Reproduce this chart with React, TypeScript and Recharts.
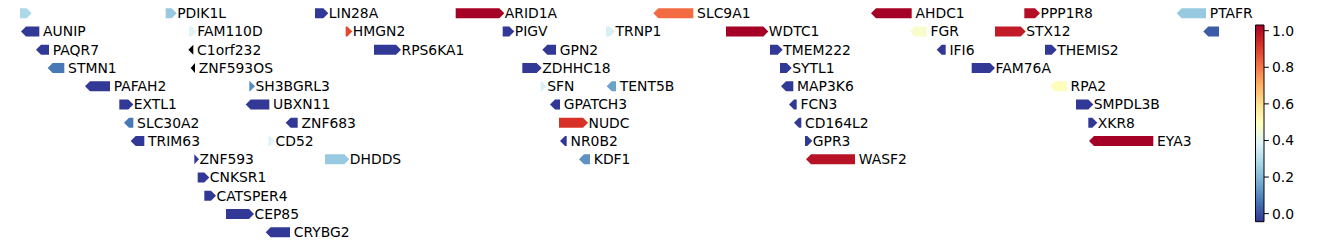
import { Bar, BarChart, ComposedChart, ReferenceArea, XAxis, YAxis } from 'recharts'

// genes, in track order (row 0 is the top line)
const geneNames = [
    '', 'PDIK1L', 'LIN28A', 'ARID1A', 'SLC9A1', 'AHDC1', 'PPP1R8', 'PTAFR',
    'AUNIP', 'FAM110D', 'HMGN2', 'PIGV', 'TRNP1', 'WDTC1', 'FGR', 'STX12', '',
    'PAQR7', 'C1orf232', 'RPS6KA1', 'GPN2', 'TMEM222', 'IFI6', 'THEMIS2',
    'STMN1', 'ZNF593OS', 'ZDHHC18', 'SYTL1', 'FAM76A',
    'PAFAH2', 'SH3BGRL3', 'SFN', 'TENT5B', 'MAP3K6', 'RPA2',
    'EXTL1', 'UBXN11', 'GPATCH3', 'FCN3', 'SMPDL3B',
    'SLC30A2', 'ZNF683', 'NUDC', 'CD164L2', 'XKR8',
    'TRIM63', 'CD52', 'NR0B2', 'GPR3', 'EYA3',
    'ZNF593', 'DHDDS', 'KDF1', 'WASF2',
    'CNKSR1', 'CATSPER4', 'CEP85', 'CRYBG2',
]
const geneRows = [
    0, 0, 0, 0, 0, 0, 0, 0,
    1, 1, 1, 1, 1, 1, 1, 1, 1,
    2, 2, 2, 2, 2, 2, 2,
    3, 3, 3, 3, 3,
    4, 4, 4, 4, 4, 4,
    5, 5, 5, 5, 5,
    6, 6, 6, 6, 6,
    7, 7, 7, 7, 7,
    8, 8, 8, 8,
    9, 10, 11, 12,
]
const geneStarts = [
    20, 165.7, 315, 455.7, 653.3, 871, 1024.3, 1176.7,
    21, 189, 345.7, 502.7, 606, 726, 910, 995, 1203.3,
    36, 188.3, 374, 542.3, 770, 936.7, 1045,
    47.7, 190.7, 522.3, 780, 971.7,
    85, 249.3, 540.7, 606.7, 781, 1050,
    119.3, 245.7, 550, 789, 1076,
    124, 285.7, 559, 794, 1088.3,
    130.7, 268.3, 560, 805, 1089,
    194.3, 325, 579, 806,
    197.7, 204.3, 226, 265.7,
]
const geneEnds = [
    31.7, 176.7, 328.3, 504.3, 693.3, 911.7, 1040, 1206,
    39.3, 196.7, 352.3, 514.3, 615, 768.3, 926.7, 1025.7, 1219,
    49, 193.3, 401, 556, 782.7, 945.7, 1056.7,
    64.3, 195, 541.7, 791.7, 995,
    110, 255, 546.7, 616, 793.3, 1066.7,
    133.3, 269.3, 560, 796.7, 1093.3,
    133.3, 297.7, 588, 801.3, 1097.3,
    144.3, 275, 566.7, 812.3, 1153.3,
    199, 349.3, 590, 855,
    209.3, 216, 254, 290,
]
const geneStrands = [
    1, 1, 1, 1, -1, -1, 1, -1,
    -1, 1, 1, 1, 1, 1, -1, 1, -1,
    -1, -1, 1, -1, 1, -1, 1,
    -1, -1, 1, 1, 1,
    -1, 1, 1, -1, -1, -1,
    1, -1, -1, -1, 1,
    -1, -1, 1, -1, 1,
    -1, 1, -1, 1, -1,
    1, 1, -1, -1,
    1, 1, 1, -1,
]
// null = no score (drawn black)
const geneScores: (number | null)[] = [
    0.28, 0.24, -0.04, 1.03, 0.82, 1.03, 1.0, 0.24,
    -0.04, 0.39, 0.88, -0.04, 0.37, 1.03, 0.47, 0.97, 0.02,
    -0.04, null, -0.04, -0.04, -0.04, -0.04, -0.04,
    0.07, null, -0.04, -0.04, -0.04,
    -0.04, 0.11, 0.37, 0.15, -0.04, 0.5,
    -0.04, -0.04, -0.04, -0.04, -0.04,
    0.07, -0.04, 0.92, -0.04, -0.04,
    -0.04, 0.39, -0.04, -0.04, 1.03,
    -0.04, 0.24, 0.12, 0.99,
    -0.04, -0.04, -0.04, -0.04,
]

const rowTicks = [0, 1, 2, 3, 4, 5, 6, 7, 8, 9, 10, 11, 12]
const colorTicks = [0, 0.2, 0.4, 0.6, 0.8, 1.0]
const scoreMin = -0.044
const scoreMax = 1.031

const RdYlBu_r = [
    '#313695', '#4575b4', '#74add1', '#abd9e9', '#e0f3f8', '#ffffbf',
    '#fee090', '#fdae61', '#f46d43', '#d73027', '#a50026',
]

const FONT = 'DejaVu Sans'

const hexToRgb = (h: string) => [1, 3, 5].map((i) => parseInt(h.slice(i, i + 2), 16))

const scoreColor = (score: number | null) => {
    if (score == null) return '#000000'
    let t = (score - scoreMin) / (scoreMax - scoreMin)
    t = Math.max(0, Math.min(1, t)) * (RdYlBu_r.length - 1)
    const i = Math.min(Math.floor(t), RdYlBu_r.length - 2)
    const f = t - i
    const a = hexToRgb(RdYlBu_r[i])
    const b = hexToRgb(RdYlBu_r[i + 1])
    const c = a.map((v, k) => Math.round(v + (b[k] - v) * f))
    return `rgb(${c[0]},${c[1]},${c[2]})`
}

const genes = geneNames.map((name, i) => ({
    name,
    row: geneRows[i],
    span: [geneStarts[i], geneEnds[i]],
    strand: geneStrands[i],
    score: geneScores[i],
}))

const GeneArrow = (props: any) => {
    const { x, y, width, height, payload } = props
    if (x == null || y == null) return null
    const head = Math.min(5, width)
    const mid = y + height / 2
    const pts =
        payload.strand > 0
            ? [[x, y], [x + width - head, y], [x + width, mid], [x + width - head, y + height], [x, y + height]]
            : [[x + width, y], [x + head, y], [x, mid], [x + head, y + height], [x + width, y + height]]
    const gap = payload.strand > 0 ? 0.5 : 3.8
    return (
        <g>
            <polygon points={pts.map((p) => p.join(',')).join(' ')} fill={scoreColor(payload.score)} />
            {payload.name && (
                <text x={x + width + gap} y={mid + 5.05} fontSize={13.9} fontFamily={FONT} fill="#000">
                    {payload.name}
                </text>
            )}
        </g>
    )
}

export default function App() {
    return (
        <div style={{ position: 'absolute', left: 0, top: 0, width: 1338, height: 246, background: '#fff' }}>
            <div style={{ position: 'absolute', left: 0, top: 0 }}>
                <BarChart
                    layout="vertical"
                    width={1338}
                    height={246}
                    data={genes}
                    margin={{ top: 0, right: 0, bottom: 0, left: 0 }}
                    barSize={10}
                >
                    <XAxis type="number" domain={[0, 1338]} hide allowDataOverflow />
                    <YAxis
                        type="number"
                        dataKey="row"
                        domain={[-0.729, 12.75]}
                        ticks={rowTicks}
                        hide
                        allowDataOverflow
                    />
                    <Bar dataKey="span" shape={GeneArrow} isAnimationActive={false} />
                </BarChart>
            </div>
            <div style={{ position: 'absolute', left: 1240, top: 0 }}>
                <ComposedChart
                    width={64}
                    height={246}
                    data={colorTicks.map((v) => ({ x: 0.5, v }))}
                    margin={{ top: 25, right: 0, bottom: 24.3, left: 15.5 }}
                >
                    <defs>
                        <linearGradient id="cbar" x1="0" y1="1" x2="0" y2="0">
                            {RdYlBu_r.map((c, i) => (
                                <stop key={c} offset={i / (RdYlBu_r.length - 1)} stopColor={c} />
                            ))}
                        </linearGradient>
                    </defs>
                    <XAxis type="number" dataKey="x" domain={[0, 1]} hide allowDataOverflow />
                    <YAxis
                        type="number"
                        orientation="right"
                        domain={[scoreMin, scoreMax]}
                        allowDataOverflow
                        ticks={colorTicks}
                        interval={0}
                        tickFormatter={(v: number) => v.toFixed(1)}
                        width={40}
                        tickSize={4.9}
                        tickMargin={3}
                        axisLine={false}
                        tickLine={{ stroke: '#000' }}
                        tick={{ fill: '#000', fontSize: 13.9, fontFamily: FONT }}
                    />
                    <ReferenceArea
                        x1={0}
                        x2={1}
                        y1={scoreMin}
                        y2={scoreMax}
                        fill="url(#cbar)"
                        fillOpacity={1}
                        stroke="#000"
                        strokeWidth={1}
                        ifOverflow="visible"
                    />
                </ComposedChart>
            </div>
        </div>
    )
}
